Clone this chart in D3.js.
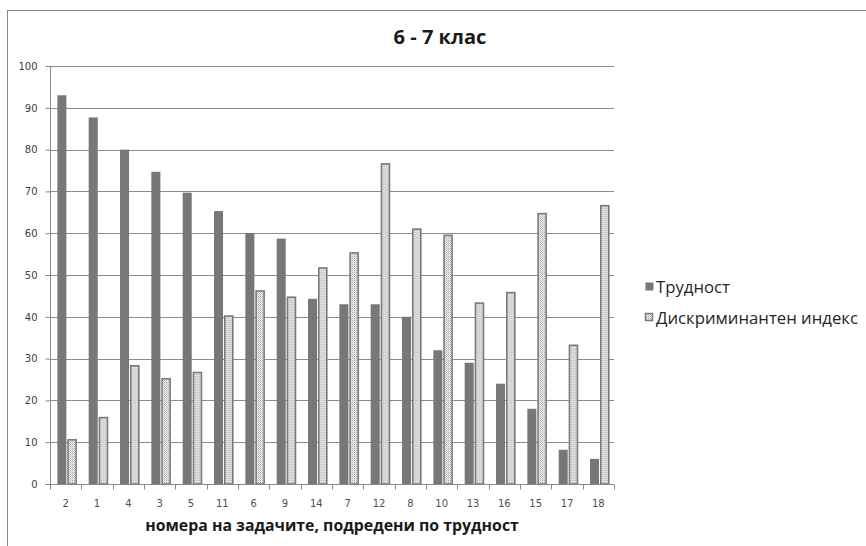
<!DOCTYPE html>
<html>
<head>
<meta charset="utf-8">
<script src="https://cdn.jsdelivr.net/npm/d3@7"></script>
<style>
  html, body { margin: 0; padding: 0; background: #fff; }
  svg { display: block; }
</style>
</head>
<body>
<svg id="chart" width="866" height="546"></svg>
<script>
// Tasks ordered by difficulty, with the two measured indicators
const tasks = ["2","1","4","3","5","11","6","9","14","7","12","8","10","13","16","15","17","18"];
const difficulty = [93, 87.7, 80, 74.7, 69.7, 65.3, 60, 58.7, 44.3, 43, 43, 40, 32, 29, 24, 18, 8.2, 6];
const discrimination = [10.7, 16, 28.4, 25.3, 26.8, 40.3, 46.3, 44.8, 51.8, 55.4, 76.7, 61.1, 59.6, 43.4, 45.9, 64.8, 33.3, 66.7];
const seriesNames = ["Трудност", "Дискриминантен индекс"];
const yTicks = [0, 10, 20, 30, 40, 50, 60, 70, 80, 90, 100];
const titleText = "6 - 7 клас";
const xTitleText = "номера на задачите, подредени по трудност";

const rows = tasks.map((t, i) => ({ task: t, values: [difficulty[i], discrimination[i]] }));

const svg = d3.select("#chart");
const plot = { left: 50, right: 614, top: 66, bottom: 484 };

// Dotted fill used by the second series
const defs = svg.append("defs");
const pat = defs.append("pattern")
  .attr("id", "dots").attr("patternUnits", "userSpaceOnUse")
  .attr("width", 2).attr("height", 2);
pat.append("rect").attr("width", 2).attr("height", 2).attr("fill", "#f4f4f4");
pat.append("rect").attr("width", 1).attr("height", 1).attr("fill", "#a8a8a8");
pat.append("rect").attr("x", 1).attr("y", 1).attr("width", 1).attr("height", 1).attr("fill", "#c8c8c8");

// Chart frame
svg.append("rect")
  .attr("x", 7.5).attr("y", 10.5).attr("width", 900).attr("height", 600)
  .attr("fill", "#fff").attr("stroke", "#8a8a8a").attr("stroke-width", 1);

const x0 = d3.scaleBand().domain(tasks).range([plot.left, plot.right]).padding(0);
const x1 = d3.scaleBand().domain([0, 1])
  .range([x0.step() * 0.235, x0.step() * 0.85]).paddingInner(0.12);
const y = d3.scaleLinear().domain([0, 100]).range([plot.bottom, plot.top]);

// Horizontal gridlines
svg.append("g").selectAll("line").data(yTicks.filter(d => d > 0)).join("line")
  .attr("x1", plot.left).attr("x2", plot.right)
  .attr("y1", d => Math.round(y(d)) + 0.5).attr("y2", d => Math.round(y(d)) + 0.5)
  .attr("stroke", "#8c8c8c").attr("stroke-width", 1);

// Bars
const groups = svg.append("g").selectAll("g").data(rows).join("g")
  .attr("transform", d => `translate(${x0(d.task)},0)`);
groups.selectAll("rect").data(d => d.values.map((v, k) => ({ k, v }))).join("rect")
  .attr("x", d => x1(d.k) + (d.k === 1 ? 0.5 : 0))
  .attr("width", d => x1.bandwidth() - (d.k === 1 ? 1 : 0))
  .attr("y", d => y(d.v) + (d.k === 1 ? 0.5 : 0))
  .attr("height", d => y(0) - y(d.v) - (d.k === 1 ? 0.5 : 0))
  .attr("fill", d => d.k === 0 ? "#777777" : "url(#dots)")
  .attr("stroke", d => d.k === 0 ? "none" : "#7a7a7a")
  .attr("stroke-width", d => d.k === 0 ? 0 : 1.6);

// Y axis
const yAxis = svg.append("g")
  .attr("transform", `translate(${plot.left + 0.5},0)`)
  .call(d3.axisLeft(y).tickValues(yTicks).tickSize(5).tickPadding(8));
yAxis.select(".domain").attr("stroke", "#8a8a8a").attr("d", `M0,${plot.top}V${plot.bottom + 5}`);
yAxis.selectAll(".tick line").attr("stroke", "#8a8a8a");
yAxis.selectAll(".tick text")
  .attr("font-family", "DejaVu Sans").attr("font-size", 10).attr("fill", "#404040");

// X axis: ticks on category boundaries, labels at centres
const xAxis = svg.append("g").attr("transform", `translate(0,${Math.round(plot.bottom) + 0.5})`);
xAxis.append("line").attr("x1", plot.left).attr("x2", plot.right)
  .attr("stroke", "#8a8a8a");
xAxis.selectAll("line.tk").data(tasks.concat(["end"])).join("line").attr("class", "tk")
  .attr("x1", (d, i) => Math.round(plot.left + i * x0.step()) + 0.5)
  .attr("x2", (d, i) => Math.round(plot.left + i * x0.step()) + 0.5)
  .attr("y1", 0).attr("y2", 5).attr("stroke", "#8a8a8a");
xAxis.selectAll("text").data(tasks).join("text")
  .attr("x", d => x0(d) + x0.bandwidth() / 2).attr("y", 22)
  .attr("text-anchor", "middle")
  .attr("font-family", "DejaVu Sans").attr("font-size", 10).attr("fill", "#505050")
  .text(d => d);

// Fit a text element's font size to a given width
function fitWidth(sel, width) {
  const base = +sel.attr("font-size");
  const len = sel.node().getComputedTextLength();
  if (len > 0) sel.attr("font-size", base * width / len);
}

// Title
const title = svg.append("text")
  .attr("x", 440).attr("y", 44).attr("text-anchor", "middle")
  .attr("font-family", "Open Sans").attr("font-weight", "bold")
  .attr("font-size", 20).attr("fill", "#1a1a1a").text(titleText);
fitWidth(title, 93);

// X axis title
const xTitle = svg.append("text")
  .attr("x", 332).attr("y", 531).attr("text-anchor", "middle")
  .attr("font-family", "Open Sans").attr("font-weight", "bold")
  .attr("font-size", 16).attr("fill", "#1a1a1a").text(xTitleText);
fitWidth(xTitle, 374);

// Legend
const legend = svg.append("g");
const legendY = [286.5, 317.5];
seriesNames.forEach((name, k) => {
  legend.append("rect")
    .attr("x", 645.5).attr("y", legendY[k] - 4)
    .attr("width", k === 0 ? 8 : 7).attr("height", k === 0 ? 8 : 7)
    .attr("fill", k === 0 ? "#777777" : "url(#dots)")
    .attr("stroke", k === 0 ? "none" : "#7a7a7a").attr("stroke-width", k === 0 ? 0 : 1.5);
  legend.append("text")
    .attr("class", "lg")
    .attr("x", 656).attr("y", legendY[k] + 6)
    .attr("font-family", "Open Sans").attr("font-size", 15).attr("fill", "#262626")
    .text(name);
});
// Size the legend font from its longest label, applied to both labels
const lgTexts = legend.selectAll("text.lg");
const longest = lgTexts.filter((d, i) => i === 1);
fitWidth(longest, 202);
lgTexts.attr("font-size", longest.attr("font-size"));
</script>
</body>
</html>
